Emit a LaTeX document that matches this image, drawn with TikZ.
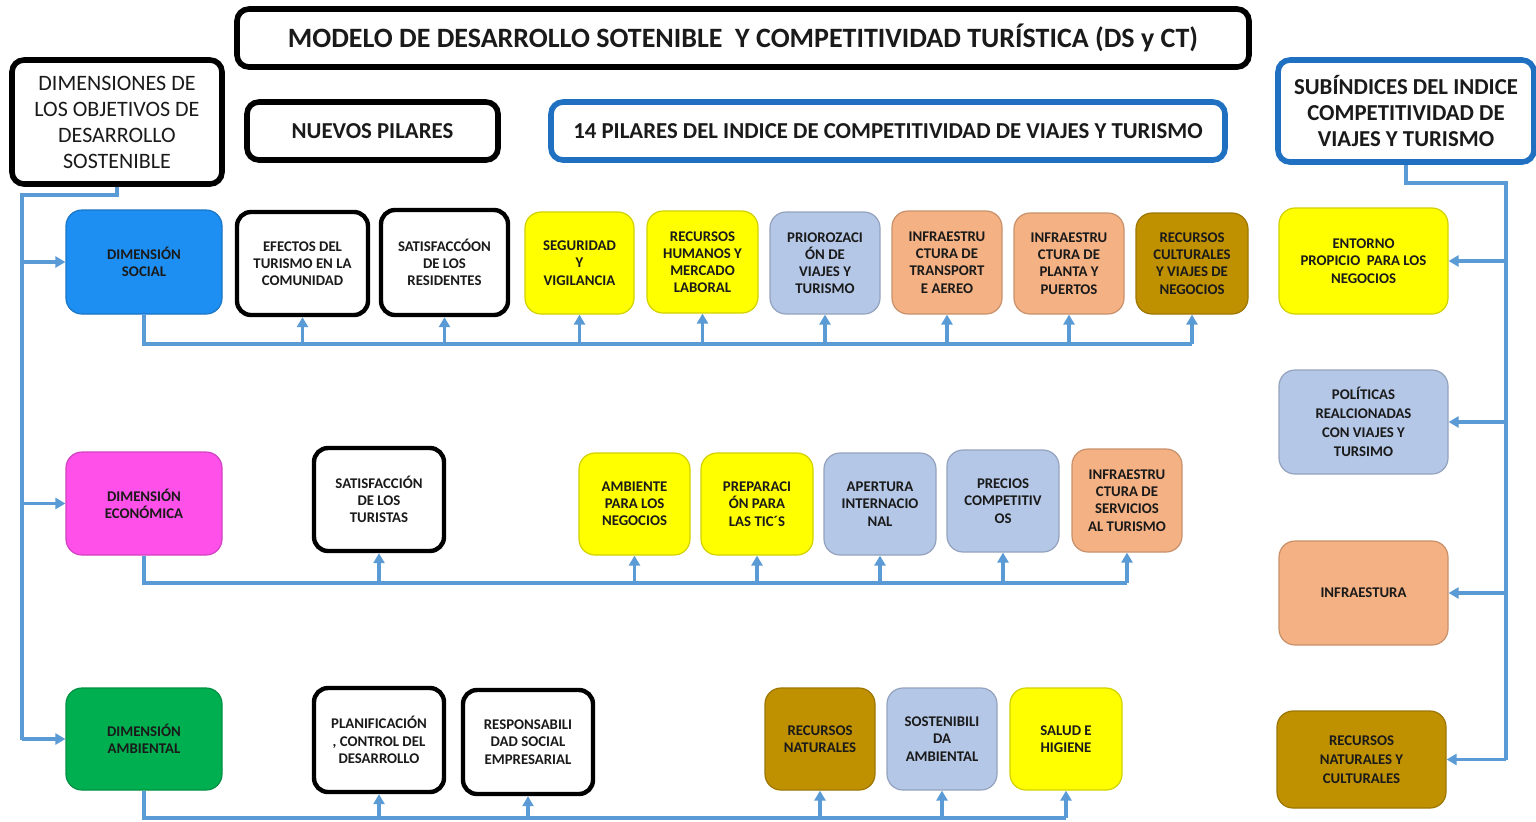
\documentclass[tikz,border=0pt]{standalone}
\usepackage{fontspec}
\setmainfont{Carlito}
\usetikzlibrary{arrows.meta}
\definecolor{cSocial}{HTML}{1E8FF2}
\definecolor{cEco}{HTML}{FF50EA}
\definecolor{cAmb}{HTML}{00B050}
\definecolor{cYel}{HTML}{FFFF00}
\definecolor{cLb}{HTML}{B4C7E7}
\definecolor{cSal}{HTML}{F4B183}
\definecolor{cGold}{HTML}{BF9000}
\definecolor{hblue}{HTML}{1F70C1}
\definecolor{lblue}{HTML}{5B9BD5}
\definecolor{txt}{HTML}{1A1A1A}
\tikzset{
  hdr/.style={draw=black, line width=2.8pt, rounded corners=6pt, fill=white, align=center, inner sep=0pt, font=\fontsize{11}{13}\selectfont, text=txt},
  bhdr/.style={hdr, draw=hblue},
  wbox/.style={draw=black, line width=2.2pt, rounded corners=7pt, fill=white, align=center, inner sep=0pt, font=\fontsize{7.4}{8.6}\selectfont\bfseries, text=txt},
  cbox/.style={draw=#1!82!black, line width=0.6pt, fill=#1, rounded corners=8pt, align=center, inner sep=0pt, font=\fontsize{7.4}{8.6}\selectfont\bfseries, text=txt},
  sz/.style 2 args={minimum width=#1*0.5pt, minimum height=#2*0.5pt},
  link/.style={draw=lblue, line width=1.8pt},
  arr/.style={link, -{Triangle[width=5.5pt,length=5pt]}},
}
\begin{document}
\begin{tikzpicture}[x=0.5pt,y=-0.5pt]
\useasboundingbox (0,0) rectangle (1536,821);
\fill[white] (0,0) rectangle (1536,821);

% headers
\node[hdr, sz={1012}{58}, font=\fontsize{14}{16}\selectfont\bfseries] (title) at (743,38) {MODELO DE DESARROLLO SOTENIBLE\ \ Y COMPETITIVIDAD TURÍSTICA (DS y CT)};
\node[hdr, sz={210}{124}] (dim) at (117,122) {DIMENSIONES DE\\LOS OBJETIVOS DE\\DESARROLLO\\SOSTENIBLE};
\node[hdr, sz={251}{58}, font=\fontsize{11.4}{13}\selectfont\bfseries] (nuevos) at (372.5,131) {NUEVOS PILARES};
\node[bhdr, sz={674}{58}, font=\fontsize{11.4}{13}\selectfont\bfseries] (pil) at (888,131) {14 PILARES DEL INDICE DE COMPETITIVIDAD DE VIAJES Y TURISMO};
\node[bhdr, sz={256}{102}, font=\fontsize{11.4}{13}\selectfont\bfseries] (sub) at (1406,111) {SUBÍNDICES DEL INDICE\\COMPETITIVIDAD DE\\VIAJES Y TURISMO};

% row 1
\node[cbox=cSocial, sz={156}{104}] (soc) at (144,262) {DIMENSIÓN\\SOCIAL};
\node[wbox, sz={131}{103}] (efe) at (302.5,263.5) {EFECTOS DEL\\TURISMO EN LA\\COMUNIDAD};
\node[wbox, sz={127}{105}] (satr) at (444.5,262.5) {SATISFACCÓON\\DE LOS\\RESIDENTES};
\node[cbox=cYel, sz={109}{102}] (seg) at (579.5,263) {SEGURIDAD\\Y\\VIGILANCIA};
\node[cbox=cYel, sz={111}{102}] (rh) at (702.5,262) {RECURSOS\\HUMANOS Y\\MERCADO\\LABORAL};
\node[cbox=cLb, sz={110}{102}] (pri) at (825,263) {PRIOROZACI\\ÓN DE\\VIAJES Y\\TURISMO};
\node[cbox=cSal, sz={110}{103}] (inft) at (947,262.5) {INFRAESTRU\\CTURA DE\\TRANSPORT\\E AEREO};
\node[cbox=cSal, sz={110}{101}] (infp) at (1069,263.5) {INFRAESTRU\\CTURA DE\\PLANTA Y\\PUERTOS};
\node[cbox=cGold, sz={112}{101}] (rc) at (1192,263.5) {RECURSOS\\CULTURALES\\Y VIAJES DE\\NEGOCIOS};

% row 2
\node[cbox=cEco, sz={156}{103}] (eco) at (144,503.5) {DIMENSIÓN\\ECONÓMICA};
\node[wbox, sz={130}{103}] (sat) at (379,499.5) {SATISFACCIÓN\\DE LOS\\TURISTAS};
\node[cbox=cYel, sz={111}{102}] (ambn) at (634.5,504) {AMBIENTE\\PARA LOS\\NEGOCIOS};
\node[cbox=cYel, sz={112}{102}] (prep) at (757,504) {PREPARACI\\ÓN PARA\\LAS TIC´S};
\node[cbox=cLb, sz={112}{102}] (ape) at (880,504) {APERTURA\\INTERNACIO\\NAL};
\node[cbox=cLb, sz={112}{102}] (pre) at (1003,501) {PRECIOS\\COMPETITIV\\OS};
\node[cbox=cSal, sz={110}{103}] (infs) at (1127,500.5) {INFRAESTRU\\CTURA DE\\SERVICIOS\\AL TURISMO};

% row 3
\node[cbox=cAmb, sz={156}{102}] (amb) at (144,739) {DIMENSIÓN\\AMBIENTAL};
\node[wbox, sz={130}{104}] (plan) at (379,740) {PLANIFICACIÓN\\, CONTROL DEL\\DESARROLLO};
\node[wbox, sz={130}{104}] (resp) at (528,742) {RESPONSABILI\\DAD SOCIAL\\EMPRESARIAL};
\node[cbox=cGold, sz={110}{102}] (rn) at (820,739) {RECURSOS\\NATURALES};
\node[cbox=cLb, sz={110}{102}] (sost) at (942,739) {SOSTENIBILI\\DA\\AMBIENTAL};
\node[cbox=cYel, sz={112}{102}] (sal) at (1066,739) {SALUD E\\HIGIENE};

% right column
\node[cbox=cYel, sz={169}{106}] (ent) at (1363.5,261) {ENTORNO\\PROPICIO\ \ PARA LOS\\NEGOCIOS};
\node[cbox=cLb, sz={169}{104}, font=\fontsize{7.4}{9.5}\selectfont\bfseries] (pol) at (1363.5,422) {POLÍTICAS\\REALCIONADAS\\CON VIAJES Y\\TURSIMO};
\node[cbox=cSal, sz={169}{104}] (infra) at (1363.5,593) {INFRAESTURA};
\node[cbox=cGold, sz={169}{97}, font=\fontsize{7.4}{9.5}\selectfont\bfseries] (rnc) at (1361.5,759.5) {RECURSOS\\NATURALES Y\\CULTURALES};

% helper coordinates
\coordinate (l1) at (22,195);
\coordinate (l2) at (22,740);
\coordinate (r1) at (1506,183);
\coordinate (r2) at (1506,760);
\coordinate (h1) at (0,344);
\coordinate (h2) at (0,583);
\coordinate (h3) at (0,818);

% left connector
\draw[link] (dim.south) -- (dim.south |- l1) -- (l1) -- (l2);
\draw[arr] (l1 |- soc.west) -- (soc.west);
\draw[arr] (l1 |- eco.west) -- (eco.west);
\draw[arr] (l1 |- amb.west) -- (amb.west);

% right connector
\draw[link] (sub.south) -- (sub.south |- r1) -- (r1) -- (r2);
\draw[arr] (r1 |- ent.east) -- (ent.east);
\draw[arr] (r1 |- pol.east) -- (pol.east);
\draw[arr] (r1 |- infra.east) -- (infra.east);
\draw[arr] (r1 |- rnc.east) -- (rnc.east);

% row 1 connectors
\draw[link] (soc.south) -- (soc.south |- h1) -- (rc.south |- h1);
\foreach \n in {efe,satr,seg,rh,pri,inft,infp,rc}
  \draw[arr] (\n.south |- h1) -- (\n.south);

% row 2 connectors
\draw[link] (eco.south) -- (eco.south |- h2) -- (infs.south |- h2);
\foreach \n in {sat,ambn,prep,ape,pre,infs}
  \draw[arr] (\n.south |- h2) -- (\n.south);

% row 3 connectors
\draw[link] (amb.south) -- (amb.south |- h3) -- (sal.south |- h3);
\foreach \n in {plan,resp,rn,sost,sal}
  \draw[arr] (\n.south |- h3) -- (\n.south);
\end{tikzpicture}
\end{document}
